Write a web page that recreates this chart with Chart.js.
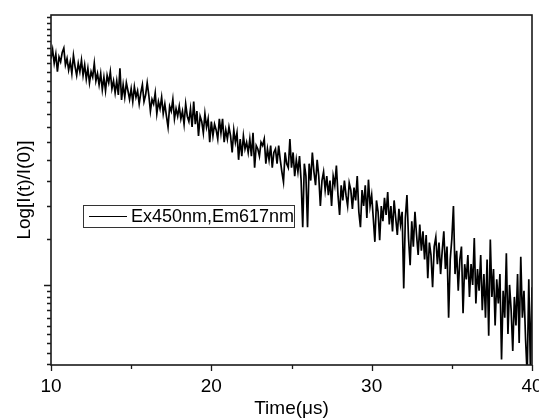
<!DOCTYPE html>
<html>
<head>
<meta charset="utf-8">
<script src="https://cdn.jsdelivr.net/npm/chart.js@4.4.0/dist/chart.umd.min.js"></script>
<style>
    body { margin: 0; background: #ffffff; }
    #wrap { width: 539px; height: 420px; }
</style>
</head>
<body>
<div id="wrap"><canvas id="decayChart" width="539" height="420"></canvas></div>
<script>
// Luminescence decay, sampled every 0.1 us from 10 us to 40 us
var seriesLabel = "Ex450nm,Em617nm";
var timeStart = 10;
var timeStep = 0.1;
var intensity = [
    7.3, 7.9, 7.0, 7.6, 6.5, 7.4, 7.1, 7.7, 8.0, 6.9,
    7.3, 6.6, 7.1, 6.4, 7.5, 6.8, 6.3, 7.0, 6.5, 7.2,
    6.3, 6.9, 6.1, 6.7, 5.9, 6.5, 6.2, 7.0, 6.0, 6.4,
    5.8, 6.4, 5.55, 6.2, 5.5, 6.3, 5.9, 6.5, 5.6, 6.0,
    5.4, 6.0, 5.3, 6.7, 5.08, 5.8, 5.2, 5.9, 5.5, 5.1,
    5.6, 5.0, 5.7, 5.2, 5.5, 4.9, 5.4, 5.8, 5.0, 5.3,
    5.9, 5.3, 4.6, 5.1, 4.9, 5.4, 4.5, 5.0, 4.7, 5.2,
    4.5, 4.9, 4.4, 4.0, 4.8, 4.6, 5.1, 4.3, 4.7, 4.4,
    4.8, 4.3, 4.6, 4.1, 4.9, 4.4, 4.2, 4.7, 4.0, 5.0,
    4.1, 4.6, 3.7, 4.4, 4.2, 3.8, 4.5, 4.0, 4.3, 3.5,
    4.2, 3.7, 4.1, 3.9, 3.6, 4.3, 3.8, 4.3, 3.5, 3.9,
    3.6, 4.0, 3.7, 3.2, 3.9, 3.5, 3.8, 3.0, 3.6, 3.1,
    3.7, 3.3, 3.5, 3.2, 3.6, 3.1, 3.8, 2.8, 3.4, 3.3,
    3.1, 3.5, 3.4, 3.6, 2.9, 3.3, 3.0, 3.4, 2.8, 3.2,
    3.3, 2.9, 3.4, 3.0, 2.7, 2.47, 3.2, 2.9, 2.8, 3.6,
    2.8, 3.2, 2.6, 3.0, 2.7, 3.1, 2.5, 1.66, 2.9, 2.6,
    1.66, 2.9, 2.5, 3.2, 2.7, 2.4, 3.0, 2.6, 2.0, 2.5,
    2.7, 2.3, 2.6, 2.2, 2.5, 2.0, 2.6, 2.4, 2.85, 2.2,
    1.85, 2.4, 2.1, 2.5, 2.2, 2.0, 2.45, 2.3, 1.95, 2.35,
    2.1, 2.6, 1.9, 1.66, 2.3, 2.0, 2.4, 1.8, 2.52, 2.0,
    2.2, 1.8, 1.46, 2.1, 1.9, 1.48, 2.0, 1.75, 2.15, 1.85,
    2.26, 1.7, 2.0, 1.6, 2.1, 1.8, 1.55, 1.95, 1.7, 1.9,
    0.97, 1.8, 2.2, 1.5, 1.19, 1.75, 1.4, 1.9, 1.55, 1.3,
    1.7, 1.35, 1.6, 1.25, 1.55, 1.06, 1.45, 1.3, 0.98, 1.4,
    1.52, 1.2, 1.45, 1.1, 1.35, 1.6, 1.15, 1.4, 0.75, 1.25,
    1.5, 2.0, 1.1, 1.35, 0.95, 1.25, 1.4, 0.78, 1.2, 1.05,
    1.3, 0.9, 1.2, 1.0, 1.51, 0.85, 1.15, 0.95, 1.3, 0.8,
    1.1, 0.75, 1.25, 0.64, 1.49, 0.9, 1.15, 0.7, 1.05, 0.85,
    1.1, 0.52, 0.95, 0.75, 1.32, 0.65, 1.0, 0.8, 0.56, 0.9,
    0.7, 1.1, 0.6, 1.28, 0.75, 0.95, 0.62, 0.45, 1.05, 0.48,
    0.98
];

// axis ticks
var xMajorTicks = [10, 20, 30, 40];
var xMinorTicks = [15, 25, 35];
var yMajorTicks = [1];
var yMinorTicks = [
    0.5, 0.55, 0.6, 0.65, 0.7, 0.75, 0.8, 0.85, 0.9, 0.95,
    1.5, 2, 2.5, 3, 3.5, 4, 4.5, 5, 5.5, 6, 6.5, 7, 7.5, 8, 8.5, 9, 9.5, 10, 10.5
];

var fontFamily = "'Liberation Sans', Arial, sans-serif";

var points = intensity.map(function (v, i) {
    return { x: timeStart + i * timeStep, y: v };
});

// Origin-style frame, outward ticks and boxed legend
var originFrame = {
    id: "originFrame",
    afterDraw: function (chart) {
        var ctx = chart.ctx;
        var area = chart.chartArea;
        var xs = chart.scales.x;
        var ys = chart.scales.y;
        ctx.save();

        ctx.strokeStyle = "#1a1a1a";
        ctx.lineWidth = 1.6;
        ctx.strokeRect(area.left, area.top, area.right - area.left, area.bottom - area.top);

        ctx.lineWidth = 1.3;
        ctx.beginPath();
        xMajorTicks.forEach(function (v) {
            var px = Math.round(xs.getPixelForValue(v)) + 0.5;
            ctx.moveTo(px, area.bottom);
            ctx.lineTo(px, area.bottom + 6);
        });
        xMinorTicks.forEach(function (v) {
            var px = Math.round(xs.getPixelForValue(v)) + 0.5;
            ctx.moveTo(px, area.bottom);
            ctx.lineTo(px, area.bottom + 4);
        });
        yMajorTicks.forEach(function (v) {
            var py = Math.round(ys.getPixelForValue(v)) + 0.5;
            ctx.moveTo(area.left, py);
            ctx.lineTo(area.left - 7, py);
        });
        yMinorTicks.forEach(function (v) {
            var py = Math.round(ys.getPixelForValue(v)) + 0.5;
            ctx.moveTo(area.left, py);
            ctx.lineTo(area.left - 4, py);
        });
        ctx.stroke();

        // legend box
        var bx = 83, by = 205, bw = 211, bh = 22;
        ctx.fillStyle = "#ffffff";
        ctx.fillRect(bx, by, bw, bh);
        ctx.lineWidth = 1;
        ctx.strokeStyle = "#333333";
        ctx.strokeRect(bx + 0.5, by + 0.5, bw, bh);
        ctx.strokeStyle = "#000000";
        ctx.lineWidth = 1.2;
        ctx.beginPath();
        ctx.moveTo(bx + 6, by + 11.5);
        ctx.lineTo(bx + 44, by + 11.5);
        ctx.stroke();
        ctx.fillStyle = "#000000";
        ctx.font = "18px " + fontFamily;
        ctx.textBaseline = "middle";
        ctx.textAlign = "left";
        ctx.fillText(chart.data.datasets[0].label, bx + 48, by + 12);

        ctx.restore();
    }
};

var ctx = document.getElementById("decayChart").getContext("2d");
new Chart(ctx, {
    type: "line",
    data: {
        datasets: [
            {
                label: seriesLabel,
                data: points,
                borderColor: "#000000",
                borderWidth: 1.7,
                pointRadius: 0,
                tension: 0,
                fill: false,
            },
        ],
    },
    options: {
        responsive: false,
        animation: false,
        layout: {
            padding: { top: 15, right: 7, left: 0, bottom: 0 },
        },
        plugins: {
            legend: { display: false },
            tooltip: { enabled: false },
        },
        scales: {
            x: {
                type: "linear",
                min: 10,
                max: 40,
                grid: { display: false, drawTicks: false },
                border: { display: false },
                ticks: {
                    stepSize: 10,
                    padding: 10,
                    color: "#000000",
                    maxRotation: 0,
                    autoSkip: false,
                    font: { family: fontFamily, size: 19 },
                },
                title: {
                    display: true,
                    text: "Time(μs)",
                    color: "#000000",
                    padding: { top: 0, bottom: 0 },
                    font: { family: fontFamily, size: 19 },
                },
                afterFit: function (scale) {
                    scale.height = 55;
                    scale.paddingLeft = 0;
                    scale.paddingRight = 0;
                },
            },
            y: {
                type: "logarithmic",
                min: 0.495,
                max: 10.7,
                bounds: "data",
                grid: { display: false, drawTicks: false },
                border: { display: false },
                ticks: { display: false },
                title: {
                    display: true,
                    text: "Log[I(t)/I(0)]",
                    color: "#000000",
                    padding: { top: 13, bottom: 0 },
                    font: { family: fontFamily, size: 19 },
                },
                afterFit: function (scale) {
                    scale.width = 51;
                    scale.paddingTop = 0;
                    scale.paddingBottom = 0;
                },
            },
        },
    },
    plugins: [originFrame],
});
</script>
</body>
</html>
